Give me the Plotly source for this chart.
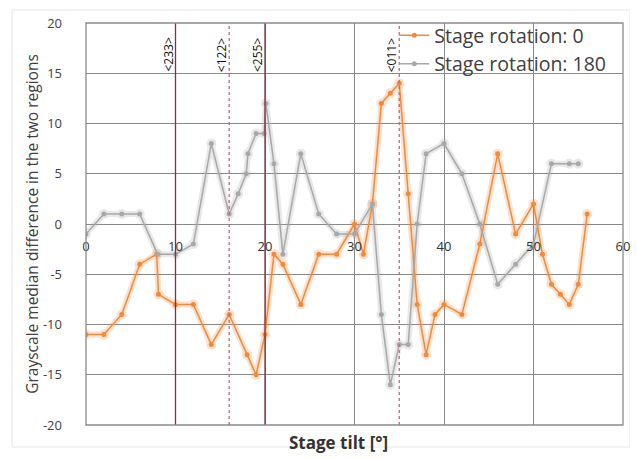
import plotly.graph_objects as go

# ---- data ----
tilt_rot0 = [0, 2, 4, 6, 7.9, 8.1, 10, 12, 14, 16, 18, 19, 20, 21, 22, 24, 26, 28, 30, 31,
             32, 33, 34, 35, 36, 37, 38, 39, 40, 42, 44, 46, 48, 50, 51, 52, 53, 54, 55, 56]
diff_rot0 = [-11, -11, -9, -4, -3, -7, -8, -8, -12, -9, -13, -15, -11, -3, -4, -8, -3, -3, 0, -3,
             2, 12, 13, 14, 3, -8, -13, -9, -8, -9, -2, 7, -1, 2, -3, -6, -7, -8, -6, 1]

tilt_rot180 = [0, 2, 4, 6, 8, 10, 12, 14, 16, 17, 17.9, 18.1, 19, 19.9, 20.1, 21, 22, 24, 26, 28,
               30, 32, 33, 34, 35, 36, 37, 38, 40, 42, 44, 46, 48, 50, 52, 54, 55]
diff_rot180 = [-1, 1, 1, 1, -3, -3, -2, 8, 1, 3, 5, 7, 9, 9, 12, 6, -3, 7, 1, -1,
               -1, 2, -9, -16, -12, -12, 0, 7, 8, 5, 0, -6, -4, -2, 6, 6, 6]

series_names = ["Stage rotation: 0", "Stage rotation: 180"]
orient_pos = [10, 16, 20, 35]
orient_labels = ["<233>", "<122>", "<255>", "<011>"]
orient_dash = ["solid", "dot", "solid", "dot"]
orient_color = ["#8a2c3c", "#d0607a", "#8a2c3c", "#d0607a"]

x_ticks = [0, 10, 20, 30, 40, 50, 60]
y_ticks = [-20, -15, -10, -5, 0, 5, 10, 15, 20]
y_ticktext = [str(v) for v in y_ticks]

ORANGE = "#f08a3c"
GRAY = "#a8a8a8"
FONT = "Open Sans"

# page body adds an 8px offset; figure is sized so that it fills the 638x460 window
W, H = 630, 452
L, R, T, B = 78, 15, 15, 35
PW, PH = W - L - R, H - T - B

fig = go.Figure()

# soft glow underlay (Excel soft-edge look)
for xs, ys, c in [(tilt_rot180, diff_rot180, GRAY), (tilt_rot0, diff_rot0, ORANGE)]:
    fig.add_trace(go.Scatter(x=xs, y=ys, mode="lines+markers", showlegend=False,
                             hoverinfo="skip", opacity=0.25,
                             line=dict(color=c, width=6),
                             marker=dict(size=10, color=c)))

fig.add_trace(go.Scatter(x=tilt_rot0, y=diff_rot0, mode="lines+markers", name=series_names[0],
                         line=dict(color=ORANGE, width=1.5),
                         marker=dict(size=5, color=ORANGE)))
fig.add_trace(go.Scatter(x=tilt_rot180, y=diff_rot180, mode="lines+markers", name=series_names[1],
                         line=dict(color=GRAY, width=1.5),
                         marker=dict(size=5, color=GRAY)))

# orientation marker lines + labels
for xp, lab, dsh, col in zip(orient_pos, orient_labels, orient_dash, orient_color):
    fig.add_shape(type="line", xref="x", yref="paper", x0=xp, x1=xp, y0=0, y1=1,
                  line=dict(color=col, width=1.3, dash=dsh), layer="above")
    fig.add_annotation(x=xp, y=20, xref="x", yref="y", text=lab, textangle=-90,
                       showarrow=False, xanchor="center", yanchor="top",
                       xshift=-8, yshift=-13,
                       font=dict(family=FONT, size=12, color="#111111"))

# plot border
fig.add_shape(type="rect", xref="paper", yref="paper", x0=0, x1=1, y0=0, y1=1,
              line=dict(color="#8a8a8a", width=1.3), layer="above")
# faint outer frame
fig.add_shape(type="rect", xref="paper", yref="paper",
              x0=(4 - L) / PW, x1=(622 - L) / PW, y0=-(439 - (T + PH)) / PH, y1=1 + (T - 2) / PH,
              line=dict(color="#e6e6e6", width=1), layer="below")

# x-axis title at bottom
fig.add_annotation(x=0.47, y=-18 / PH, xref="paper", yref="paper", text="<b>Stage tilt [°]</b>",
                   showarrow=False, xanchor="center", yanchor="middle",
                   font=dict(family=FONT, size=17, color="#333333"))

fig.update_layout(
    width=W, height=H,
    margin=dict(l=L, r=R, t=T, b=B, autoexpand=False),
    paper_bgcolor="white", plot_bgcolor="white",
    font=dict(family=FONT, color="#404040"),
    showlegend=True,
    legend=dict(x=0.574, y=1.017, xanchor="left", yanchor="top",
                bgcolor="rgba(0,0,0,0)", borderwidth=0,
                font=dict(family=FONT, size=19.5, color="#404040"),
                tracegroupgap=0, itemwidth=30),
    xaxis=dict(range=[0, 60], tickvals=x_ticks, showgrid=True, gridcolor="#888888",
               gridwidth=1.3, zeroline=False, showline=False, ticks="",
               anchor="free", position=0.5, ticklabelstandoff=13, automargin=False,
               tickfont=dict(family=FONT, size=13, color="#333333")),
    yaxis=dict(range=[-20, 20], tickvals=y_ticks, ticktext=y_ticktext, showgrid=True,
               gridcolor="#888888", gridwidth=1.3, zeroline=False, showline=False, ticks="",
               ticklabelstandoff=23, automargin=False,
               tickfont=dict(family=FONT, size=13, color="#404040"),
               title=dict(text="Grayscale median difference in the two regions",
                          font=dict(family=FONT, size=15.5, color="#404040"), standoff=0)),
)

fig.write_html("out.html")
